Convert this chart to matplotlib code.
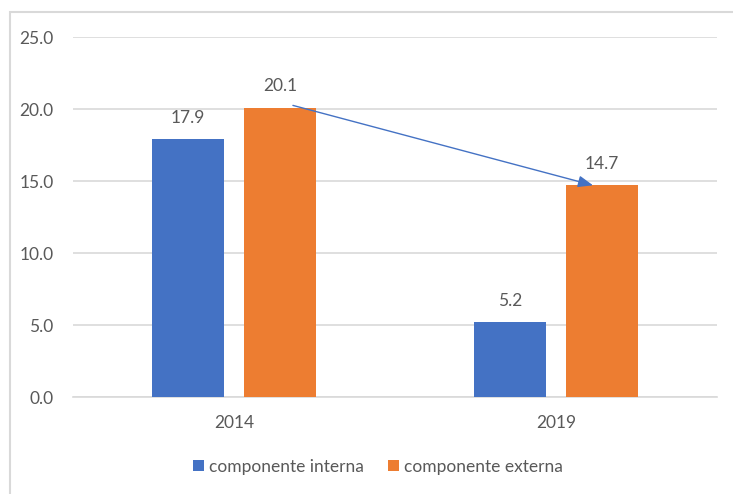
import numpy as np
import matplotlib.pyplot as plt
from matplotlib.patches import Rectangle

# Data
years = ['2014', '2019']
interna = [17.9, 5.2]
externa = [20.1, 14.7]
series_names = ['componente interna', 'componente externa']
y_ticks = [0, 5, 10, 15, 20, 25]

blue = '#4472C4'
orange = '#ED7D31'
text_col = '#595959'
grid_col = '#D9D9D9'
fs = 12.5

plt.rcParams['font.family'] = ['Lato', 'DejaVu Sans']

W, H = 733, 494
fig = plt.figure(figsize=(W / 100, H / 100), dpi=100)

# chart border (light gray), open at right and bottom like the screenshot
fig.add_artist(Rectangle((10 / W, -0.1), 1.2, (H - 12) / H + 0.1,
                         transform=fig.transFigure, fill=False,
                         edgecolor='#D9D9D9', linewidth=1.5))

ax = fig.add_axes([73 / W, (H - 397) / H, (717 - 73) / W, 360 / H])

x = np.arange(len(years))
bw = 0.224
off = 0.1425
b1 = ax.bar(x - off, interna, bw, color=blue, label=series_names[0], zorder=3)
b2 = ax.bar(x + off, externa, bw, color=orange, label=series_names[1], zorder=3)

for bars, vals in ((b1, interna), (b2, externa)):
    for rect, v in zip(bars, vals):
        ax.annotate(f'{v:.1f}', (rect.get_x() + rect.get_width() / 2, v),
                    xytext=(0, 15.5), textcoords='offset points',
                    ha='center', va='center', fontsize=fs, color=text_col)

# arrow between the two external bars
ax.annotate('', xy=(x[1] + 0.115, externa[1]), xytext=(x[0] + 0.183, externa[0] + 0.15),
            arrowprops=dict(arrowstyle='-|>,head_length=0.9,head_width=0.35',
                            color=blue, lw=1.0, shrinkA=0, shrinkB=0),
            zorder=5)

ax.set_xlim(-0.5, 1.5)
ax.set_ylim(0, 25)
ax.set_yticks(y_ticks)
ax.set_yticklabels([f'{t:.1f}' for t in y_ticks])
ax.set_xticks(x)
ax.set_xticklabels(years)
ax.yaxis.grid(True, color=grid_col, linewidth=1.2, zorder=0)
ax.set_axisbelow(True)
for s in ['top', 'right', 'left']:
    ax.spines[s].set_visible(False)
ax.spines['bottom'].set_color(grid_col)
ax.spines['bottom'].set_linewidth(1.2)
ax.tick_params(axis='y', length=0, pad=14, labelsize=fs, labelcolor=text_col)
ax.tick_params(axis='x', length=0, pad=13, labelsize=fs, labelcolor=text_col)

fig.legend(handles=[b1, b2], labels=series_names, loc='center',
           bbox_to_anchor=(378 / W, (H - 467) / H), ncol=2, frameon=False,
           fontsize=fs, labelcolor=text_col, handlelength=0.6, handleheight=0.6,
           handletextpad=0.3, columnspacing=1.4)

fig.savefig('out.png', dpi=100, facecolor='white')
